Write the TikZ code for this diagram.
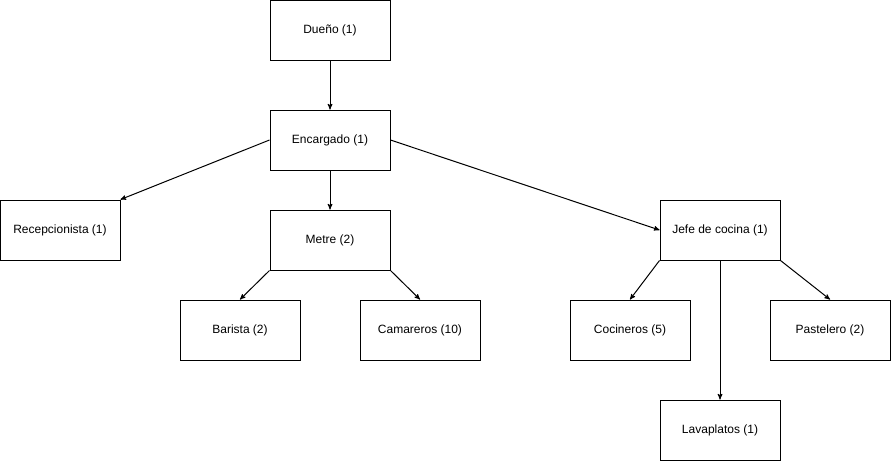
\documentclass[tikz,border=0pt]{standalone}
\usepackage{fontspec}
\setmainfont{Liberation Sans}
\usepackage{tikz}
\usetikzlibrary{arrows}

\begin{document}
\begin{tikzpicture}[x=1pt, y=-1pt, >=stealth', line width=1pt,
      role/.style={rectangle,draw=black,fill=white,minimum width=120pt,minimum height=60pt,
                   inner sep=0pt,font=\fontsize{12}{14}\selectfont}]
    \useasboundingbox (0,0) rectangle (891,461);
    \node[role] at (330,30) (owner) {Dueño (1)};
    \node[role] at (330,140) (manager) {Encargado (1)};
    \node[role] at (60,230) (reception) {Recepcionista (1)};
    \node[role] at (330,240) (maitre) {Metre (2)};
    \node[role] at (720,230) (chef) {Jefe de cocina (1)};
    \node[role] at (240,330) (barista) {Barista (2)};
    \node[role] at (420,330) (waiters) {Camareros (10)};
    \node[role] at (630,330) (cooks) {Cocineros (5)};
    \node[role] at (830,330) (pastry) {Pastelero (2)};
    \node[role] at (720,430) (dishes) {Lavaplatos (1)};
    \draw[->] (owner) -- (manager);
    \draw[->] (manager.west) -- (reception.north east);
    \draw[->] (manager) -- (maitre);
    \draw[->] (manager.east) -- (chef.west);
        \draw[->] (maitre.south west) -- (barista.north);
        \draw[->] (maitre.south east) -- (waiters.north);
        \draw[->] (chef.south west) -- (cooks.north);
        \draw[->] (chef.south east) -- (pastry.north);
        \draw[->] (chef) -- (dishes);
\end{tikzpicture}
\end{document}
